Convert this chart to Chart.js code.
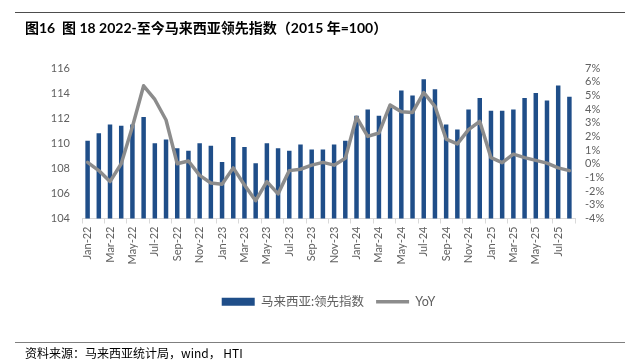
<!DOCTYPE html>
<html>
<head>
<meta charset="utf-8">
<script src="https://cdn.jsdelivr.net/npm/chart.js@4.4.1/dist/chart.umd.min.js"></script>
<style>
  html, body { margin: 0; padding: 0; background: #ffffff; }
  #wrap { position: relative; width: 625px; height: 360px; overflow: hidden; }
  #chartBox { position: absolute; left: 0; top: 0; width: 625px; height: 360px; }
  .rule { position: absolute; left: 15px; width: 610px; height: 1px; }
  #topRule { top: 12px; background: #4d4d4d; }
  #bottomRule { top: 342px; background: #7f7f7f; }
  #title { position: absolute; left: 25px; top: 19px; line-height: 18px; font-size: 14px; font-weight: bold; color: #000; font-family: "Lato", "Noto Sans CJK SC", sans-serif; white-space: nowrap; }
  #source { position: absolute; left: 25px; top: 345px; line-height: 16px; font-size: 12px; color: #000; font-family: "Noto Sans CJK SC", sans-serif; white-space: nowrap; }
</style>
</head>
<body>
<div id="wrap">
  <div id="chartBox"><canvas id="c" width="625" height="360"></canvas></div>
  <div id="topRule" class="rule"></div>
  <div id="title">图16&nbsp; 图 18 2022-至今马来西亚领先指数（2015 年=100）</div>
  <div id="bottomRule" class="rule"></div>
  <div id="source">资料来源：马来西亚统计局，wind， HTI</div>
</div>
<script>
const categories = ["Jan-22","Feb-22","Mar-22","Apr-22","May-22","Jun-22","Jul-22","Aug-22","Sep-22","Oct-22","Nov-22","Dec-22",
  "Jan-23","Feb-23","Mar-23","Apr-23","May-23","Jun-23","Jul-23","Aug-23","Sep-23","Oct-23","Nov-23","Dec-23",
  "Jan-24","Feb-24","Mar-24","Apr-24","May-24","Jun-24","Jul-24","Aug-24","Sep-24","Oct-24","Nov-24","Dec-24",
  "Jan-25","Feb-25","Mar-25","Apr-25","May-25","Jun-25","Jul-25","Aug-25"];

const leadingIndex = [110.2,110.8,111.5,111.4,111.5,112.1,110.0,110.3,109.6,109.4,110.0,109.8,
  108.5,110.5,109.7,108.4,110.0,109.6,109.4,109.9,109.5,109.5,109.9,110.2,
  112.2,112.7,112.2,112.9,114.2,113.8,115.1,114.3,111.5,111.1,112.7,113.6,
  112.6,112.6,112.7,113.6,114.0,113.4,114.6,113.7];

const yoy = [0.1,-0.5,-1.3,0.0,2.7,5.7,4.7,3.2,0.0,0.2,-0.85,-1.4,
  -1.5,-0.3,-1.55,-2.7,-1.3,-2.2,-0.5,-0.4,-0.1,0.1,-0.1,0.4,
  3.4,2.0,2.25,4.3,3.8,3.75,5.2,4.2,1.8,1.45,2.5,3.1,
  0.45,0.08,0.7,0.45,0.25,0.05,-0.3,-0.5];

const leftTicks = [104,106,108,110,112,114,116];
const rightTicks = [-4,-3,-2,-1,0,1,2,3,4,5,6,7];

const seriesNames = ["马来西亚:领先指数", "YoY"];

const axisFont = { family: "'Lato', 'Noto Sans CJK SC', sans-serif", size: 11 };
const labelColor = '#606060';

new Chart(document.getElementById('c'), {
  type: 'bar',
  data: {
    labels: categories,
    datasets: [
      {
        type: 'bar',
        label: seriesNames[0],
        data: leadingIndex,
        yAxisID: 'y',
        backgroundColor: '#1f4e89',
        borderWidth: 0,
        barPercentage: 0.4,
        categoryPercentage: 1.0,
        order: 1,
        pointStyle: 'rect'
      },
      {
        type: 'line',
        label: seriesNames[1],
        data: yoy,
        yAxisID: 'y1',
        borderColor: '#8c8c8c',
        backgroundColor: '#8c8c8c',
        borderWidth: 3.5,
        pointRadius: 0,
        tension: 0,
        borderJoinStyle: 'round',
        borderCapStyle: 'round',
        order: 0,
        pointStyle: 'line'
      }
    ]
  },
  options: {
    responsive: false,
    animation: false,
    devicePixelRatio: 1,
    layout: { padding: { left: 0, right: 0, top: 68, bottom: 42 } },
    plugins: {
      title: { display: false },
      tooltip: { enabled: false },
      legend: {
        display: true,
        position: 'bottom',
        fullSize: false,
        labels: {
          usePointStyle: true,
          pointStyleWidth: 33,
          boxHeight: 8,
          padding: 12,
          color: labelColor,
          font: { family: "'Lato', 'Noto Sans CJK SC', sans-serif", size: 12.5 },
          sort: (a, b) => a.datasetIndex - b.datasetIndex
        }
      }
    },
    scales: {
      x: {
        offset: true,
        grid: {
          display: true,
          drawOnChartArea: false,
          drawTicks: true,
          tickLength: 5,
          offset: true,
          color: (ctx) => (ctx.index === undefined || ctx.index % 2 === 0) ? '#d9d9d9' : 'rgba(0,0,0,0)'
        },
        border: { display: true, color: '#d9d9d9', width: 1 },
        ticks: {
          autoSkip: false,
          minRotation: 90,
          maxRotation: 90,
          padding: 3,
          color: labelColor,
          font: axisFont,
          callback: (v, i) => (i % 2 === 0 ? categories[i] : '')
        },
        afterFit: (s) => { s.height = 65; }
      },
      y: {
        position: 'left',
        min: leftTicks[0],
        max: leftTicks[leftTicks.length - 1],
        afterBuildTicks: (s) => { s.ticks = leftTicks.map(v => ({ value: v })); },
        grid: { display: false, drawTicks: false },
        border: { display: false },
        ticks: { autoSkip: false, padding: 12, color: labelColor, font: axisFont },
        afterFit: (s) => { s.width = 82; }
      },
      y1: {
        position: 'right',
        min: rightTicks[0],
        max: rightTicks[rightTicks.length - 1],
        afterBuildTicks: (s) => { s.ticks = rightTicks.map(v => ({ value: v })); },
        grid: { display: false, drawTicks: false },
        border: { display: false },
        ticks: { autoSkip: false, padding: 10, color: labelColor, font: axisFont, callback: (v) => v + '%' },
        afterFit: (s) => { s.width = 50; }
      }
    }
  }
});
</script>
</body>
</html>
